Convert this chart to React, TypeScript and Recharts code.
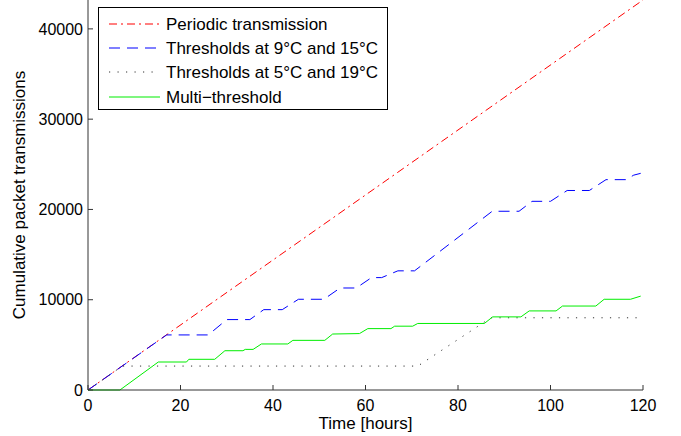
import { CartesianGrid, Line, LineChart, XAxis, YAxis } from 'recharts'

// hours vs cumulative packets
const periodic = [
  { x: 0, y: 0 },
  { x: 120, y: 43200 },
]

const thresholds9to15 = [
  { x: 0, y: 0 },
  { x: 17, y: 6100 },
  { x: 26, y: 6100 },
  { x: 30, y: 7800 },
  { x: 35, y: 7800 },
  { x: 38, y: 8900 },
  { x: 42, y: 8900 },
  { x: 45.5, y: 10050 },
  { x: 51, y: 10050 },
  { x: 54.5, y: 11300 },
  { x: 58, y: 11300 },
  { x: 61.3, y: 12450 },
  { x: 63.5, y: 12450 },
  { x: 67, y: 13200 },
  { x: 70.6, y: 13200 },
  { x: 87.4, y: 19800 },
  { x: 93.2, y: 19800 },
  { x: 96, y: 20900 },
  { x: 100, y: 20900 },
  { x: 103.6, y: 22100 },
  { x: 108.4, y: 22100 },
  { x: 112, y: 23300 },
  { x: 116.3, y: 23300 },
  { x: 118, y: 23800 },
  { x: 119.5, y: 24000 },
]

const thresholds5to19 = [
  { x: 0, y: 0 },
  { x: 7.4, y: 2650 },
  { x: 71.3, y: 2650 },
  { x: 87.1, y: 8000 },
  { x: 119.5, y: 8000 },
]

const multiThreshold = [
  { x: 0, y: 0 },
  { x: 6.9, y: 0 },
  { x: 15.2, y: 3100 },
  { x: 21.3, y: 3100 },
  { x: 21.8, y: 3400 },
  { x: 27.4, y: 3400 },
  { x: 29.6, y: 4350 },
  { x: 33.5, y: 4350 },
  { x: 34, y: 4500 },
  { x: 35.7, y: 4500 },
  { x: 37.5, y: 5100 },
  { x: 43.2, y: 5100 },
  { x: 44.3, y: 5500 },
  { x: 51.2, y: 5500 },
  { x: 52.9, y: 6200 },
  { x: 58.7, y: 6250 },
  { x: 60.5, y: 6800 },
  { x: 65.5, y: 6800 },
  { x: 66.3, y: 7070 },
  { x: 70.2, y: 7070 },
  { x: 71.3, y: 7370 },
  { x: 85.7, y: 7370 },
  { x: 87.5, y: 8100 },
  { x: 93.6, y: 8100 },
  { x: 95.4, y: 8760 },
  { x: 101.2, y: 8760 },
  { x: 102.6, y: 9300 },
  { x: 109.8, y: 9300 },
  { x: 111.6, y: 10050 },
  { x: 117.3, y: 10050 },
  { x: 119.5, y: 10400 },
]

const xTicks = [0, 20, 40, 60, 80, 100, 120]
const yTicks = [0, 10000, 20000, 30000, 40000]

const SERIES = [
  { name: 'Periodic transmission', data: periodic, color: '#ff0000', dash: '8 4 2 4' },
  { name: 'Thresholds at 9°C and 15°C', data: thresholds9to15, color: '#0000ff', dash: '11 7' },
  { name: 'Thresholds at 5°C and 19°C', data: thresholds5to19, color: '#333333', dash: '1.2 7.3' },
  { name: 'Multi−threshold', data: multiThreshold, color: '#00ee00', dash: undefined },
]

const FONT = '"Liberation Sans", Arial, Helvetica, sans-serif'

function ChartLegend() {
  return (
    <svg
      width={291}
      height={103}
      style={{ position: 'absolute', left: 98, top: 7, fontFamily: FONT }}
    >
      <rect x={0.5} y={0.5} width={289} height={102} fill="#fff" stroke="#000" />
      {SERIES.map((s, i) => {
        const cy = Math.round(16.5 + i * 24.4)
        return (
          <g key={s.name}>
            <line
              x1={11}
              x2={62}
              y1={cy}
              y2={cy}
              stroke={s.color}
              strokeWidth={1.2}
              strokeDasharray={s.dash}
            />
            <text x={68} y={cy + 6} fontSize={17} fill="#000">
              {s.name}
            </text>
          </g>
        )
      })}
    </svg>
  )
}

export default function App() {
  return (
    <div style={{ position: 'absolute', left: 0, top: 0, width: 681, height: 436, background: '#fff' }}>
      <LineChart width={681} height={436} margin={{ top: 0, right: 38, bottom: 0, left: 0 }}>
        <CartesianGrid stroke="none" />
        <XAxis
          type="number"
          dataKey="x"
          domain={[0, 120]}
          ticks={xTicks}
          height={46}
          tickSize={-5}
          tickMargin={15}
          stroke="#333"
          tick={{ fill: '#000', fontSize: 16, fontFamily: FONT }}
          label={({ viewBox }: any) => (
            <text
              x={viewBox.x + viewBox.width / 2}
              y={429}
              textAnchor="middle"
              fontSize={17}
              fontFamily={FONT}
              fill="#000"
            >
              Time [hours]
            </text>
          )}
        />
        <YAxis
          type="number"
          domain={[0, 43200]}
          ticks={yTicks}
          width={88}
          tickSize={-5}
          tickMargin={10}
          stroke="#333"
          tick={{ fill: '#000', fontSize: 16, fontFamily: FONT }}
          label={() => (
            <text
              x={25}
              y={195}
              transform="rotate(-90 25 195)"
              textAnchor="middle"
              fontSize={17}
              fontFamily={FONT}
              fill="#000"
            >
              Cumulative packet transmissions
            </text>
          )}
        />
        {SERIES.map((s) => (
          <Line
            key={s.name}
            data={s.data}
            dataKey="y"
            name={s.name}
            type="linear"
            stroke={s.color}
            strokeWidth={1}
            strokeDasharray={s.dash}
            dot={false}
            activeDot={false}
            isAnimationActive={false}
          />
        ))}
      </LineChart>
      <ChartLegend />
    </div>
  )
}
